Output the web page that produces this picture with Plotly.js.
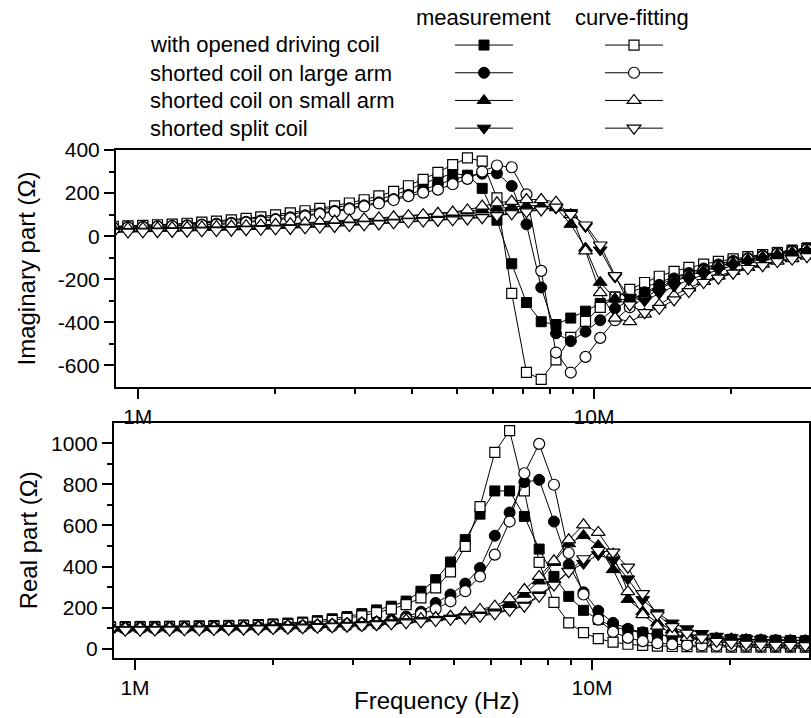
<!DOCTYPE html>
<html>
<head>
<meta charset="utf-8">
<script src="https://cdn.plot.ly/plotly-3.0.1.min.js"></script>
<style>html,body{margin:0;padding:0;background:#fff;}#chart{width:811px;height:718px;}</style>
</head>
<body>
<div id="chart"></div>
<script>
// ---------- data ----------
const freqHz = [0.884e6, 0.952e6, 1.026e6, 1.105e6, 1.190e6, 1.283e6, 1.382e6, 1.488e6, 1.604e6, 1.728e6,
  1.861e6, 2.005e6, 2.160e6, 2.327e6, 2.507e6, 2.701e6, 2.910e6, 3.135e6, 3.377e6, 3.638e6,
  3.920e6, 4.223e6, 4.549e6, 4.901e6, 5.280e6, 5.688e6, 6.128e6, 6.602e6, 7.112e6, 7.662e6,
  8.255e6, 8.893e6, 9.581e6, 10.32e6, 11.12e6, 11.98e6, 12.91e6, 13.90e6, 14.98e6, 16.14e6,
  17.39e6, 18.73e6, 20.18e6, 21.74e6, 23.42e6, 25.23e6, 27.18e6, 29.29e6];

const seriesLabels = ['with opened driving coil', 'shorted coil on large arm', 'shorted coil on small arm', 'shorted split coil'];
const columnHeaders = ['measurement', 'curve-fitting'];

// Imaginary part (Ohm)
const imagOpenedMeas = [44,46,48,50,53,57,61,66,71,77,84,92,101,111,121,132,144,157,172,190,215,245,268,291,283,222,74,-128,-308,-397,-410,-380,-348,-312,-282,-260,-238,-214,-190,-168,-148,-128,-112,-99,-86,-75,-64,-54];
const imagOpenedFit  = [46,48,50,53,56,60,65,70,76,83,90,99,108,118,129,141,154,169,187,208,234,264,296,332,363,348,178,-265,-632,-665,-574,-470,-395,-330,-283,-247,-215,-186,-163,-145,-130,-117,-105,-95,-85,-76,-67,-58];
const imagLargeMeas  = [40,42,44,46,48,51,54,58,62,67,73,80,88,97,107,118,130,143,157,172,192,215,240,263,280,290,292,233,55,-238,-451,-487,-443,-390,-335,-298,-260,-226,-196,-171,-150,-131,-115,-102,-89,-78,-68,-58];
const imagLargeFit   = [38,40,42,44,46,48,51,54,58,63,68,75,83,92,102,113,125,138,152,168,186,202,216,241,266,300,328,320,194,-161,-540,-633,-560,-472,-390,-330,-285,-246,-212,-184,-160,-140,-122,-107,-94,-82,-72,-62];
const imagSmallMeas  = [33,34,35,36,37,39,40,42,44,46,49,52,55,58,62,66,70,75,80,86,92,98,104,110,117,124,131,137,141,142,132,55,-55,-214,-290,-298,-268,-236,-206,-181,-159,-140,-123,-109,-96,-85,-75,-65];
const imagSmallFit   = [35,36,37,38,40,41,43,45,47,49,52,55,58,62,66,70,75,80,85,90,95,100,106,112,122,140,155,162,170,170,158,100,-68,-262,-380,-397,-362,-318,-275,-240,-210,-185,-163,-145,-130,-116,-104,-93];
const imagSplitMeas  = [21,22,23,24,25,26,28,29,31,33,35,37,39,42,45,48,52,56,60,65,70,73,76,79,83,89,98,107,116,125,130,110,44,-64,-190,-285,-300,-265,-232,-203,-178,-156,-137,-121,-107,-94,-82,-71];
const imagSplitFit   = [18,19,20,21,22,23,25,26,28,30,32,34,36,39,42,45,49,53,57,62,67,70,73,76,80,86,95,104,113,122,135,101,52,-41,-183,-319,-355,-335,-296,-257,-215,-195,-172,-150,-137,-118,-106,-95];

// Real part (Ohm)
const realOpenedMeas = [108,108,109,109,110,111,112,113,114,116,118,121,125,130,137,146,157,171,189,207,232,280,336,422,531,655,768,768,644,485,352,255,187,142,108,90,78,68,60,55,51,48,46,44,42,41,40,39];
const realOpenedFit  = [104,104,105,105,106,107,108,109,110,112,114,116,119,124,130,138,148,160,176,193,215,248,296,374,498,692,956,1061,768,420,226,126,78,49,32,22,16,13,11,10,9,9,8,8,8,8,8,8];
const realLargeMeas  = [100,100,101,101,102,102,103,103,104,105,106,107,109,111,113,116,120,124,130,141,157,180,223,264,317,393,550,663,811,822,619,409,275,185,126,97,80,68,60,54,50,47,45,43,42,41,40,39];
const realLargeFit   = [97,97,98,98,99,99,100,100,101,102,103,104,105,106,108,110,113,116,121,131,146,168,193,231,280,352,458,619,854,997,798,466,264,142,82,53,37,27,21,18,16,15,14,14,13,13,13,13];
const realSmallMeas  = [101,101,102,102,103,103,104,105,106,107,108,110,112,114,117,120,123,127,131,136,141,146,151,157,168,182,198,225,265,330,420,511,551,502,385,240,180,126,92,72,60,53,49,46,44,42,41,40];
const realSmallFit   = [100,100,101,101,102,102,103,104,105,106,107,109,111,113,116,119,122,126,130,135,140,146,152,158,175,191,207,243,288,352,428,530,603,566,460,278,166,110,77,55,42,34,28,24,21,19,18,17];
const realSplitMeas  = [93,93,94,94,95,95,96,97,98,99,100,102,104,106,108,111,114,118,122,127,132,137,143,149,156,164,176,192,212,262,312,378,415,458,430,340,239,175,125,97,74,61,53,48,45,43,42,41];
const realSplitFit   = [90,90,90,91,91,92,92,93,94,95,96,98,100,102,104,107,110,113,117,121,126,131,137,143,150,158,170,187,207,255,310,375,438,478,470,397,268,165,108,76,53,36,27,22,19,17,16,15];

// axis ticks
const xTickVals = [1e6, 1e7];
const xTickText = ['1M', '10M'];
const xMinorVals = [2e6, 3e6, 4e6, 5e6, 6e6, 7e6, 8e6, 9e6, 2e7, 3e7];
const imagTickVals = [-600, -400, -200, 0, 200, 400];
const imagTickText = ['-600', '-400', '-200', '0', '200', '400'];
const imagMinorVals = [-500, -300, -100, 100, 300];
const realTickVals = [0, 200, 400, 600, 800, 1000];
const realTickText = ['0', '200', '400', '600', '800', '1000'];
const realMinorVals = [100, 300, 500, 700, 900];

// ---------- layout helpers ----------
const FONT = 'Liberation Sans, Arial, Helvetica, sans-serif';
const W = 811, H = 718, ML = 114, MR = 0, MT = 150, MB = 60;
const PW = W - ML - MR, PH = H - MT - MB;
const fx = px => (px - ML) / PW;
const fy = py => (H - MB - py) / PH;

const series = [
  {symbol: 'square', size: 10, im: imagOpenedMeas, imFit: imagOpenedFit, re: realOpenedMeas, reFit: realOpenedFit},
  {symbol: 'circle', size: 11, im: imagLargeMeas, imFit: imagLargeFit, re: realLargeMeas, reFit: realLargeFit},
  {symbol: 'triangle-up', size: 12, im: imagSmallMeas, imFit: imagSmallFit, re: realSmallMeas, reFit: realSmallFit},
  {symbol: 'triangle-down', size: 12, im: imagSplitMeas, imFit: imagSplitFit, re: realSplitMeas, reFit: realSplitFit}
];

const traces = [];
series.forEach((s, k) => {
  const measMarker = {symbol: s.symbol, size: s.size, color: '#000', line: {color: '#000', width: 1}};
  const fitMarker = {symbol: s.symbol, size: s.size, color: '#fff', line: {color: '#000', width: 1.2}};
  const line = {color: '#000', width: 1};
  traces.push({x: freqHz, y: s.im, xaxis: 'x2', yaxis: 'y2', mode: 'lines+markers', marker: measMarker, line: line,
    name: '', legend: 'legend', legendgroup: 'm' + k, showlegend: true, hoverinfo: 'skip'});
  traces.push({x: freqHz, y: s.imFit, xaxis: 'x2', yaxis: 'y2', mode: 'lines+markers', marker: fitMarker, line: line,
    name: '', legend: 'legend2', legendgroup: 'f' + k, showlegend: true, hoverinfo: 'skip'});
  traces.push({x: freqHz, y: s.re, xaxis: 'x', yaxis: 'y', mode: 'lines+markers', marker: measMarker, line: line,
    name: seriesLabels[k], legendgroup: 'm' + k, showlegend: false, hoverinfo: 'skip'});
  traces.push({x: freqHz, y: s.reFit, xaxis: 'x', yaxis: 'y', mode: 'lines+markers', marker: fitMarker, line: line,
    name: seriesLabels[k] + ' (fit)', legendgroup: 'f' + k, showlegend: false, hoverinfo: 'skip'});
});

const tickFont = {family: FONT, size: 21, color: '#000'};
const axisBase = {
  showline: true, linecolor: '#000', linewidth: 2, ticks: 'outside', ticklen: 10, tickwidth: 2, tickcolor: '#000',
  showgrid: false, zeroline: false, tickfont: tickFont, automargin: false
};
const minorX = {tickmode: 'array', tickvals: xMinorVals, ticks: 'outside', ticklen: 5, tickwidth: 2, tickcolor: '#000'};

const legendBase = {xref: 'paper', yref: 'paper', y: fy(26.2), xanchor: 'left', yanchor: 'top',
  font: {family: FONT, size: 19, color: '#000'}, itemwidth: 58, bgcolor: 'rgba(0,0,0,0)', borderwidth: 0,
  traceorder: 'normal', tracegroupgap: 0};

const layout = {
  width: W, height: H,
  margin: {l: ML, r: MR, t: MT, b: MB, pad: 0, autoexpand: false},
  paper_bgcolor: '#fff', plot_bgcolor: '#fff',
  font: {family: FONT, color: '#000'},
  xaxis: Object.assign({}, axisBase, {
    type: 'log', domain: [0, fx(809.3)], range: [5.9540, 7.4755], anchor: 'y', mirror: true,
    tickmode: 'array', tickvals: xTickVals, ticktext: xTickText, minor: minorX
  }),
  xaxis2: Object.assign({}, axisBase, {
    type: 'log', domain: [fx(116), 1], range: [5.9524, 7.4756], anchor: 'y2', mirror: true,
    tickmode: 'array', tickvals: xTickVals, ticktext: xTickText, minor: minorX
  }),
  yaxis: Object.assign({}, axisBase, {
    domain: [0, fy(422.7)], range: [-45, 1100], anchor: 'x', mirror: true,
    tickmode: 'array', tickvals: realTickVals, ticktext: realTickText,
    minor: {tickmode: 'array', tickvals: realMinorVals, ticks: 'outside', ticklen: 5, tickwidth: 2, tickcolor: '#000'},
    title: {text: 'Real part (\u03a9)', font: {family: FONT, size: 24, color: '#000'}, standoff: 7}
  }),
  yaxis2: Object.assign({}, axisBase, {
    domain: [fy(387), 1], range: [-700, 400], anchor: 'x2', mirror: false,
    tickmode: 'array', tickvals: imagTickVals, ticktext: imagTickText,
    minor: {tickmode: 'array', tickvals: imagMinorVals, ticks: 'outside', ticklen: 5, tickwidth: 2, tickcolor: '#000'},
    title: {text: 'Imaginary part (\u03a9)', font: {family: FONT, size: 24, color: '#000'}, standoff: 15}
  }),
  showlegend: true,
  legend: Object.assign({}, legendBase, {x: fx(450)}),
  legend2: Object.assign({}, legendBase, {x: fx(600)}),
  annotations: []
};

const labelFont = {family: FONT, size: 22, color: '#000'};
const rowY = [45, 73, 101, 128];
seriesLabels.forEach((t, k) => {
  layout.annotations.push({text: t, xref: 'paper', yref: 'paper', x: fx(148), y: fy(rowY[k]),
    xanchor: 'left', yanchor: 'middle', showarrow: false, font: labelFont});
});
layout.annotations.push({text: columnHeaders[0], xref: 'paper', yref: 'paper', x: fx(483), y: fy(17),
  xanchor: 'center', yanchor: 'middle', showarrow: false, font: labelFont});
layout.annotations.push({text: columnHeaders[1], xref: 'paper', yref: 'paper', x: fx(632), y: fy(17),
  xanchor: 'center', yanchor: 'middle', showarrow: false, font: labelFont});
layout.annotations.push({text: 'Frequency (Hz)', xref: 'paper', yref: 'paper', x: fx(436.7), y: fy(700),
  xanchor: 'center', yanchor: 'middle', showarrow: false, font: {family: FONT, size: 24, color: '#000'}});

Plotly.newPlot('chart', traces, layout, {staticPlot: true, displayModeBar: false});
</script>
</body>
</html>
